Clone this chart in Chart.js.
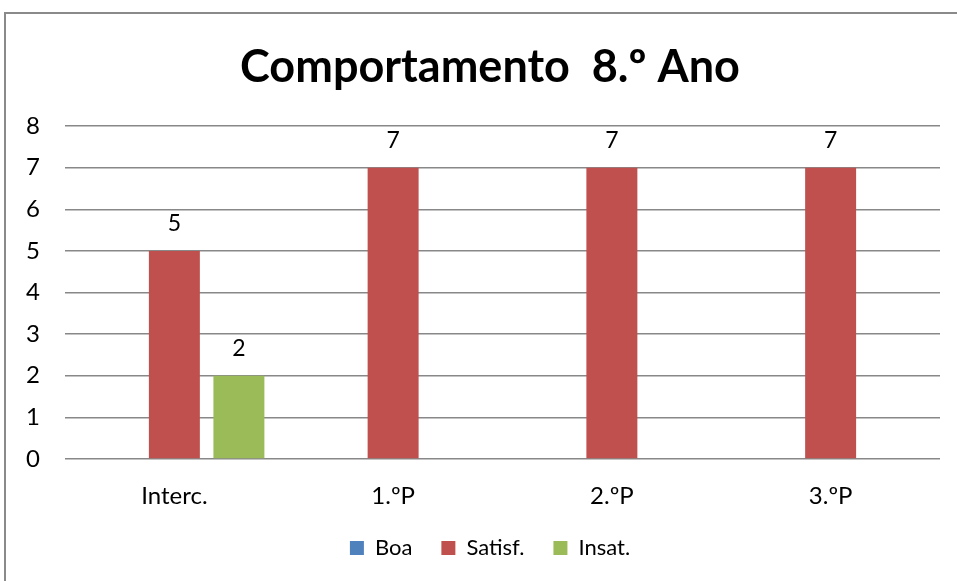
<!DOCTYPE html>
<html>
<head>
<meta charset="utf-8">
<script src="https://cdn.jsdelivr.net/npm/chart.js@4.4.0/dist/chart.umd.min.js"></script>
<style>
  html, body { margin: 0; padding: 0; background: #fff; overflow: hidden; }
  #frame { position: absolute; left: 4px; top: 12px; width: 2000px; height: 2000px;
           border-left: 2px solid #8a8a8a; border-top: 2px solid #8a8a8a; }
  #wrap { position: absolute; left: 0; top: 0; width: 980px; height: 581px; }
</style>
</head>
<body>
<div id="frame"></div>
<div id="wrap"><canvas id="myChart"></canvas></div>
<script>
// data
const categories = ['Interc.', '1.ºP', '2.ºP', '3.ºP'];
const seriesNames = ['Boa', 'Satisf.', 'Insat.'];
const boaValues = [null, null, null, null];
const satisfValues = [5, 7, 7, 7];
const insatValues = [2, null, null, null];
const yMin = 0;
const yMax = 8;
const titleText = 'Comportamento  8.º Ano';

const colors = ['#4F81BD', '#C0504D', '#9BBB59'];
const fontFamily = 'Lato, "Open Sans", sans-serif';

// value labels above each bar
const barLabels = {
    id: 'barLabels',
    afterDatasetsDraw(chart) {
        const ctx = chart.ctx;
        ctx.save();
        ctx.font = '23px ' + fontFamily;
        ctx.fillStyle = '#000';
        ctx.textAlign = 'center';
        ctx.textBaseline = 'middle';
        chart.data.datasets.forEach((ds, i) => {
            chart.getDatasetMeta(i).data.forEach((bar, j) => {
                if (ds.data[j] == null) return;
                ctx.fillText(String(ds.data[j]), bar.x, bar.y - 27);
            });
        });
        ctx.restore();
    }
};

const allValues = [boaValues, satisfValues, insatValues];

var ctx = document.getElementById('myChart').getContext('2d');
var chart = new Chart(ctx, {
    type: 'bar',
    data: {
        labels: categories,
        datasets: seriesNames.map((name, i) => ({
            label: name,
            data: allValues[i],
            backgroundColor: colors[i],
            borderColor: colors[i],
            borderWidth: 0,
            categoryPercentage: 0.885,
            barPercentage: 0.79
        }))
    },
    options: {
        responsive: true,
        maintainAspectRatio: false,
        animation: false,
        layout: { padding: { left: 0, right: 0, top: 0, bottom: 12 } },
        plugins: {
            title: {
                display: true,
                text: titleText,
                color: '#000',
                font: { family: fontFamily, size: 45, weight: 'bold', lineHeight: 1.2 },
                padding: { top: 40, bottom: 32 }
            },
            legend: {
                position: 'bottom',
                labels: {
                    color: '#000',
                    boxWidth: 14,
                    boxHeight: 14,
                    padding: 29,
                    font: { family: fontFamily, size: 22 }
                }
            },
            tooltip: { enabled: false }
        },
        scales: {
            x: {
                grid: { display: false, drawTicks: false },
                border: { display: false },
                ticks: { color: '#000', padding: 23, font: { family: fontFamily, size: 24 } },
                afterFit(scale) { scale.height = 49; }
            },
            y: {
                min: yMin,
                max: yMax,
                grid: { color: '#888', lineWidth: 1.5, drawTicks: false },
                border: { display: false },
                ticks: { stepSize: 1, color: '#000', padding: 25, font: { family: fontFamily, size: 24 } },
                afterFit(scale) { scale.width = 65; }
            },
            // empty spacer so the plot ends where the picture's does
            yRight: {
                position: 'right',
                grid: { display: false, drawTicks: false },
                border: { display: false },
                ticks: { display: false },
                afterFit(scale) { scale.width = 40; }
            }
        }
    },
    plugins: [barLabels]
});
</script>
</body>
</html>
